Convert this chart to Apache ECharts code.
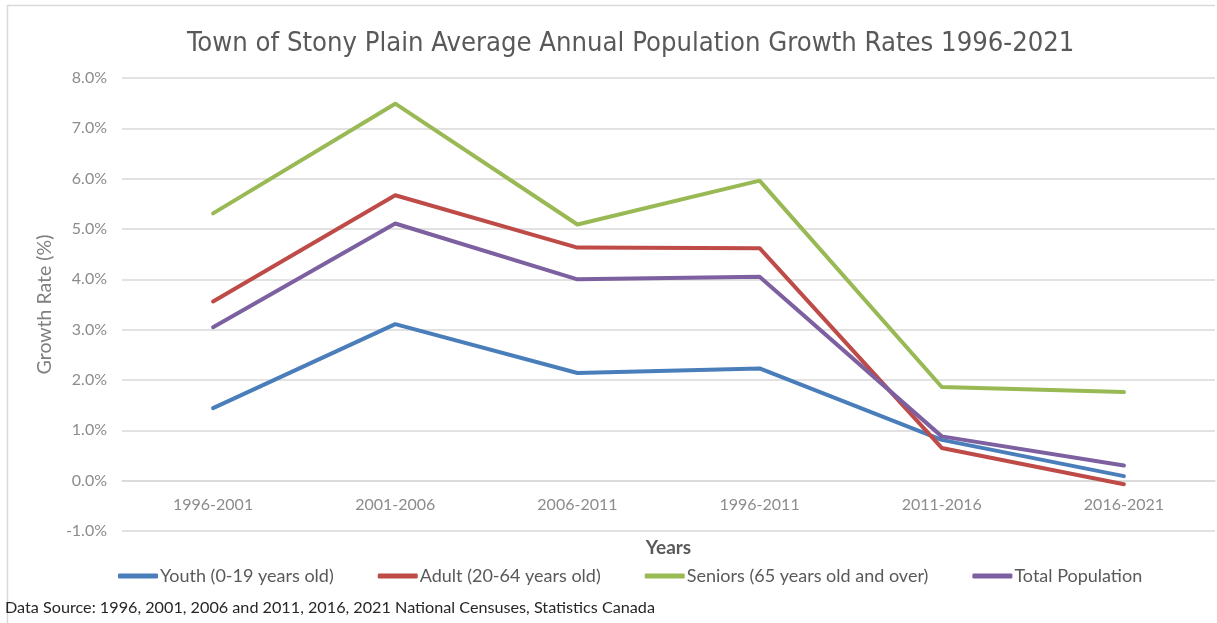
<!DOCTYPE html>
<html>
<head>
<meta charset="utf-8">
<title>Town of Stony Plain Average Annual Population Growth Rates 1996-2021</title>
<script src="https://cdn.jsdelivr.net/npm/echarts@6/dist/echarts.min.js"></script>
<style>
  html, body { margin: 0; padding: 0; background: #ffffff; }
  #chart { width: 1217px; height: 623px; }
</style>
</head>
<body>
<div id="chart"></div>
<script>
// Census periods along the category axis
const periods = ['1996-2001', '2001-2006', '2006-2011', '1996-2011', '2011-2016', '2016-2021'];

// Average annual growth rate (%) per age group
const youth   = [1.44, 3.11, 2.14, 2.23, 0.81, 0.09];
const adult   = [3.56, 5.67, 4.63, 4.62, 0.65, -0.07];
const seniors = [5.31, 7.49, 5.09, 5.96, 1.86, 1.76];
const total   = [3.05, 5.11, 4.00, 4.05, 0.88, 0.30];

const seriesNames = ['Youth (0-19 years old)', 'Adult (20-64 years old)', 'Seniors (65 years old and over)', 'Total Population'];
const seriesColors = ['#4a7ebb', '#be4b48', '#98b954', '#7d60a0'];
const seriesData = [youth, adult, seniors, total];

// Y-axis range and step (percent)
const yMin = -1;
const yMax = 8;
const yStep = 1;

const titleText = 'Town of Stony Plain Average Annual Population Growth Rates 1996-2021';
const sourceText = 'Data Source: 1996, 2001, 2006 and 2011, 2016, 2021 National Censuses, Statistics Canada';

const chart = echarts.init(document.getElementById('chart'), null, { renderer: 'canvas' });

const option = {
  backgroundColor: '#ffffff',
  animation: false,
  title: {
    text: titleText,
    left: 182,
    top: 25,
    textStyle: {
      fontFamily: '"Liberation Sans Narrow", "DejaVu Sans Condensed", sans-serif',
      fontWeight: 'normal',
      fontSize: 27.2,
      color: '#595959'
    }
  },
  legend: {
    data: seriesNames,
    left: 113,
    top: 562,
    icon: 'roundRect',
    itemWidth: 40,
    itemHeight: 5,
    itemGap: 44,
    textStyle: {
      fontFamily: 'Lato, sans-serif',
      fontSize: 18,
      color: '#595959',
      padding: [0, 0, 0, -3]
    }
  },
  grid: {
    left: 122,
    right: 2,
    top: 78,
    bottom: 92,
    containLabel: false
  },
  xAxis: {
    type: 'category',
    data: periods,
    boundaryGap: true,
    name: 'Years',
    nameLocation: 'middle',
    nameGap: 7,
    nameTextStyle: {
      fontFamily: 'Lato, sans-serif',
      fontSize: 19,
      fontWeight: 'bold',
      color: '#595959'
    },
    axisLine: { show: true, lineStyle: { color: '#d9d9d9', width: 1.5 } },
    axisTick: { show: false },
    axisLabel: {
      margin: -34,
      fontFamily: 'Lato, sans-serif',
      fontSize: 16,
      color: '#8c8c8c'
    },
    splitLine: { show: false }
  },
  yAxis: {
    type: 'value',
    min: yMin,
    max: yMax,
    interval: yStep,
    name: 'Growth Rate (%)',
    nameLocation: 'middle',
    nameGap: 67,
    nameTextStyle: {
      fontFamily: 'Lato, sans-serif',
      fontSize: 19.5,
      color: '#808080'
    },
    axisLine: { show: false },
    axisTick: { show: false },
    axisLabel: {
      margin: 15,
      fontFamily: 'Lato, sans-serif',
      fontSize: 16,
      color: '#8c8c8c',
      formatter: v => v.toFixed(1) + '%'
    },
    splitLine: { show: true, lineStyle: { color: '#d9d9d9', width: 1.5 } }
  },
  graphic: [
    {
      type: 'polyline',
      shape: { points: [[7.5, 623], [7.5, 5.5], [1215, 5.5]] },
      style: { stroke: '#d9d9d9', lineWidth: 1.5, fill: null },
      silent: true
    },
    {
      type: 'text',
      left: 5,
      top: 600,
      style: {
        text: sourceText,
        fontFamily: 'Lato, sans-serif',
        fontSize: 16.2,
        fill: '#262626'
      }
    }
  ],
  series: seriesData.map((d, i) => ({
    name: seriesNames[i],
    type: 'line',
    data: d,
    symbol: 'none',
    smooth: false,
    color: seriesColors[i],
    lineStyle: { width: 4, color: seriesColors[i], cap: 'round', join: 'round' }
  }))
};

chart.setOption(option);
</script>
</body>
</html>
